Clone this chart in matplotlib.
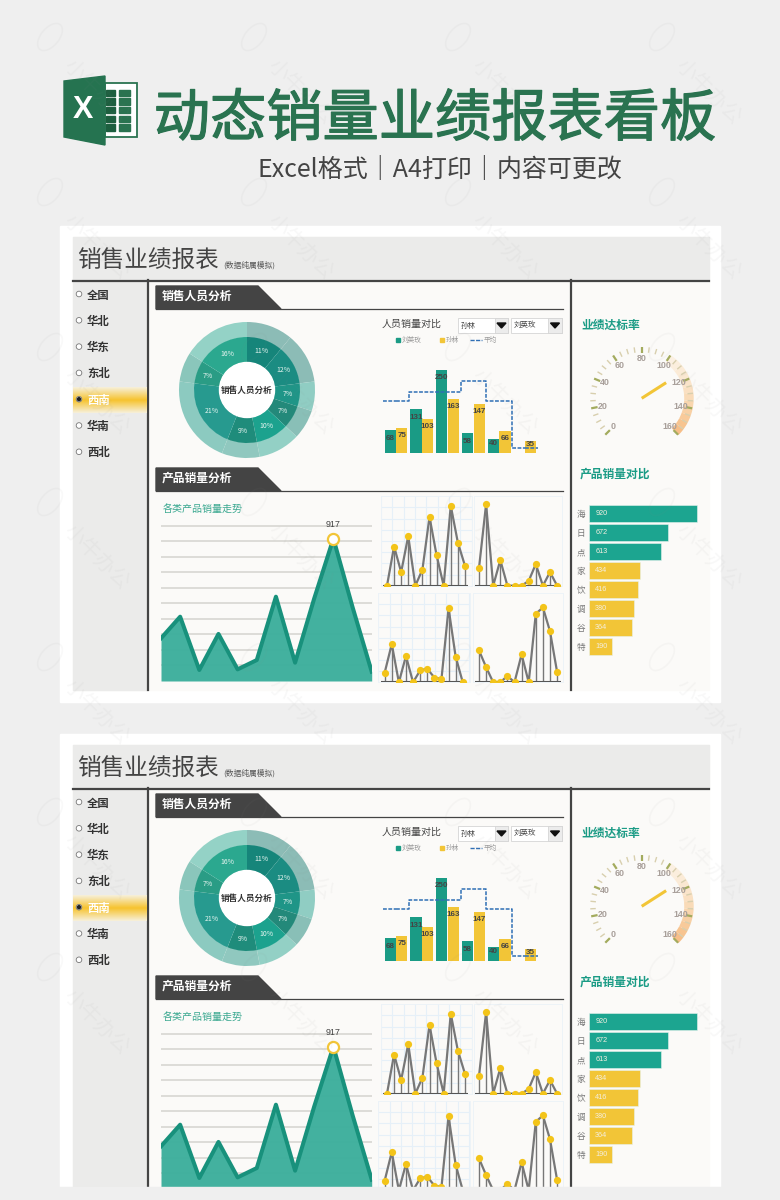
import numpy as np
import matplotlib
matplotlib.use("Agg")
import matplotlib.pyplot as plt
import matplotlib.patheffects as pe
from matplotlib.colors import LinearSegmentedColormap
from matplotlib.patches import Circle, Ellipse, Polygon, Rectangle

plt.rcParams["font.family"] = ["Noto Sans CJK SC", "DejaVu Sans"]
NUM_FONT = ["Liberation Sans", "Noto Sans CJK SC"]

# -----------------------------
# DATA
# -----------------------------
regions = ["全国", "华北", "华东", "东北", "西南", "华南", "西北"]
selected_region = "西南"

donut_share = [11, 12, 7, 7, 10, 9, 21, 7, 16]
donut_inner = ["#16857a", "#1b8c82", "#1f9587", "#23897a", "#1ca28e",
               "#1f8c7b", "#279a8f", "#2a9c85", "#2ba88f"]
donut_outer = ["#8cbcb6", "#8cbcb6", "#90cdc3", "#89bfb7", "#93d0c5",
               "#90c8bf", "#8ccac0", "#8ac6bb", "#94d2c6"]

liu_sales = [68, 131, 250, 58, 40, 0]
sun_sales = [75, 103, 163, 147, 66, 35]
avg_sales = [157, 182, 182, 218, 157, 15]

gauge_value = 114
gauge_labels = [0, 20, 40, 60, 80, 100, 120, 140, 160]
gauge_minor = [5, 10, 15, 25, 30, 35, 45, 50, 55, 65, 70, 75, 85, 90, 95,
               105, 110, 115, 125, 130, 135, 145, 150, 155]
gauge_band = [100, 105, 110, 115, 120, 125, 130, 135, 140, 145, 150, 155]
gauge_band_colors = ["#fbf0e2", "#fbeedd", "#fbebd7", "#fae8d1", "#fae4ca", "#fae0c2",
                     "#f9dbb8", "#f9d6ae", "#f8d0a4", "#f8ca9a", "#f7c490", "#f7be88"]

product_names = ["海", "日", "点", "家", "饮", "调", "谷", "特"]
product_sales = [920, 672, 613, 434, 416, 380, 364, 190]
product_colors = ["#1ca590", "#1ca590", "#1ca590", "#f2c537", "#f2c537",
                  "#f2c537", "#f2c537", "#f2c537"]

trend_sales = [275, 414, 71, 303, 75, 135, 543, 118, 532, 917, 476, 60]

spark_a = [0, 49, 17, 62, 0, 20, 86, 38, 0, 100, 54, 25]
spark_b = [22, 102, 0, 32, 0, 0, 0, 6, 27, 0, 17, 0]
spark_c = [12, 48, 0, 33, 0, 15, 17, 6, 4, 93, 32, 0]
spark_d = [40, 19, 0, 0, 8, 0, 35, 0, 86, 94, 64, 13]

TEAL = "#1a9b85"
GOLD = "#f2c537"
BG = "#efefef"
PANEL = "#fbfaf8"
GREY = "#ebebea"
DARK = "#444444"

fig = plt.figure(figsize=(7.8, 12), dpi=100, facecolor=BG)


def px_axes(x0, y0, x1, y1, **kw):
    # axes placed by pixel box, y measured from the top of the image
    return fig.add_axes([x0 / 780, 1 - y1 / 1200, (x1 - x0) / 780, (y1 - y0) / 1200], **kw)


base = px_axes(0, 0, 780, 1200)
base.set_xlim(0, 780)
base.set_ylim(1200, 0)
base.axis("off")
base.set_zorder(0)

# -----------------------------
# HEADING
# -----------------------------
base.add_patch(Rectangle((105, 83), 31.5, 54, fc="white", ec="#2a7350", lw=1.3))
for row in range(5):
    for col in range(2):
        base.add_patch(Rectangle((106 + col * 12.5, 89.5 + row * 8.7), 9 + col * 2, 6.5,
                                 color="#2a7350" if col else "#1d5f3f"))
base.add_patch(Polygon([(64, 81), (105, 76), (105, 145), (64, 137)], color="#257350"))
base.text(83, 110, "X", color="white", fontsize=22, fontweight="bold", ha="center", va="center",
          family=NUM_FONT)
base.text(435, 120, "动态销量业绩报表看板", color="#2a7350", fontsize=40.5, fontweight="medium",
          ha="center", va="center",
          path_effects=[pe.withStroke(linewidth=0.9, foreground="#2a7350")])
base.text(439.5, 170, "Excel格式｜A4打印｜内容可更改", color="#444444", fontsize=18,
          ha="center", va="center")


def draw_panel(dy):
    # -----------------------------
    # 1. PANEL BACKGROUND
    # -----------------------------
    base.add_patch(Rectangle((60, 226 + dy), 660, 476, color="white"))
    base.add_patch(Rectangle((73, 237 + dy), 636, 453, color=PANEL))
    base.add_patch(Rectangle((73, 237 + dy), 636, 43, color=GREY))
    base.add_patch(Rectangle((73, 281 + dy), 74, 409, color=GREY))
    base.plot([73, 709], [280.5 + dy, 280.5 + dy], color=DARK, lw=1.6)
    base.plot([148, 148], [280 + dy, 690 + dy], color=DARK, lw=1.6)
    base.plot([571, 571], [280 + dy, 690 + dy], color=DARK, lw=1.6)
    base.text(77.5, 261 + dy, "销售业绩报表", fontsize=17, color="#444444", va="center")
    base.text(223, 265.5 + dy, "(数据纯属模拟)", fontsize=5.6, color="#555555", va="center")

    # sidebar
    band = LinearSegmentedColormap.from_list("band", ["#f6efd8", "#f7c32e", "#f6efd8"])
    base.imshow(np.linspace(0, 1, 40).reshape(-1, 1), cmap=band, aspect="auto", zorder=2,
                extent=(73, 147, 413 + dy, 387 + dy))
    base.set_xlim(0, 780)
    base.set_ylim(1200, 0)
    for i, name in enumerate(regions):
        y = 294 + i * 26.3 + dy
        on = name == selected_region
        base.add_patch(Circle((79, y), 2.8, fc="white", ec="#777777", lw=0.6, zorder=3))
        if on:
            base.add_patch(Circle((79, y), 1.5, color="#222222", zorder=3))
        base.text(87, y + 1, name, fontsize=8.2, fontweight="bold", va="center", zorder=3,
                  color="white" if on else "#333333")

    # section headers
    for y0, title in [(286, "销售人员分析"), (468, "产品销量分析")]:
        base.add_patch(Polygon([(156, y0 + dy), (258, y0 + dy), (281, y0 + 23 + dy), (156, y0 + 23 + dy)],
                               color="#444444"))
        base.text(162, y0 + 10 + dy, title, color="white", fontsize=8.5, fontweight="bold", va="center")
        base.plot([156, 563], [y0 + 22.5 + dy, y0 + 22.5 + dy], color=DARK, lw=0.9)

    # -----------------------------
    # 2. DONUT
    # -----------------------------
    ax = px_axes(167, 310 + dy, 327, 470 + dy)
    ax.pie(donut_share, colors=donut_outer, radius=68, startangle=90, counterclock=False,
           wedgeprops={"width": 15.5, "linewidth": 0})
    ax.pie(donut_share, colors=donut_inner, radius=53, startangle=90, counterclock=False,
           wedgeprops={"width": 25.5, "linewidth": 0},
           autopct="%d%%", pctdistance=0.78,
           textprops={"color": "#e8f5f1", "fontsize": 5})
    ax.add_patch(Circle((0, 0), 27.5, color="white"))
    ax.text(0, 0, "销售人员分析", fontsize=6.2, fontweight="bold", color="#333333",
            ha="center", va="center")
    ax.set_xlim(-80, 80)
    ax.set_ylim(-80, 80)
    ax.set_aspect("equal")

    # -----------------------------
    # 3. PERSON COMPARISON BARS
    # -----------------------------
    base.text(382, 323.5 + dy, "人员销量对比", fontsize=7.2, color="#444444", va="center")
    for x0, x1, btn, who in [(458, 508, 495, "孙林"), (511, 562, 548, "刘英玫")]:
        base.add_patch(Rectangle((x0, 318 + dy), x1 - x0, 15, fc="white", ec="#d5d5d5", lw=0.6))
        base.add_patch(Rectangle((btn, 318 + dy), x1 - btn, 15, fc="#ececec", ec="#d5d5d5", lw=0.6))
        mid = (btn + x1) / 2
        base.add_patch(Polygon([(mid - 4.5, 323 + dy), (mid + 4.5, 323 + dy), (mid, 328 + dy)], color="#111111"))
        base.text(x0 + 3, 325.5 + dy, who, fontsize=5.4, color="#444444", va="center")
    base.add_patch(Rectangle((396, 338 + dy), 4, 4, color=TEAL))
    base.text(402, 340 + dy, "刘英玫", fontsize=4.8, color="#999999", va="center")
    base.add_patch(Rectangle((440, 338 + dy), 4, 4, color=GOLD))
    base.text(446, 340 + dy, "孙林", fontsize=4.8, color="#999999", va="center")
    base.plot([470, 482], [340 + dy, 340 + dy], color="#2f6fb5", lw=1, ls=(0, (3, 1)))
    base.text(484, 340 + dy, "平均", fontsize=4.8, color="#999999", va="center")

    ax = px_axes(383.1, 360 + dy, 537.9, 452.7 + dy)
    x = np.arange(len(liu_sales))
    ax.bar(x - 0.225, liu_sales, width=0.44, color=TEAL)
    ax.bar(x + 0.225, sun_sales, width=0.44, color=GOLD)
    ax.step(x, avg_sales, where="mid", color="#2f6fb5", lw=1.1, ls=(0, (2.5, 1)))
    ax.plot([-0.5, 0], [avg_sales[0], avg_sales[0]], color="#2f6fb5", lw=1.1, ls=(0, (2.5, 1)))
    ax.plot([5, 5.5], [avg_sales[-1], avg_sales[-1]], color="#2f6fb5", lw=1.1, ls=(0, (2.5, 1)))
    for shift, vals in [(-0.225, liu_sales), (0.225, sun_sales)]:
        for i, v in enumerate(vals):
            if v:
                # small bars keep their number closer to the top
                ax.text(i + shift, v - (24 if v > 50 else 11), str(v), fontsize=5.8, fontweight="bold",
                        color="#444444", ha="center", va="center", family=NUM_FONT)
    ax.set_xlim(-0.5, 5.5)
    ax.set_ylim(0, 280)
    ax.axis("off")

    # -----------------------------
    # 4. GAUGE
    # -----------------------------
    base.text(581, 325 + dy, "业绩达标率", fontsize=8.5, fontweight="bold", color=TEAL, va="center")
    base.text(580, 474 + dy, "产品销量对比", fontsize=8.5, fontweight="bold", color=TEAL, va="center")

    def angle(v):
        return np.deg2rad(-135 + np.asarray(v) * 270 / 160)

    ax = px_axes(581.7, 338.3 + dy, 701.7, 458.3 + dy, projection="polar")
    ax.set_theta_zero_location("N")
    ax.set_theta_direction(-1)
    ax.bar(angle(gauge_band), 9.5, width=np.deg2rad(5 * 270 / 160), bottom=42.5, align="edge",
           color=gauge_band_colors, linewidth=0)
    ax.vlines(angle(gauge_minor), 46, 51.5, color="#d8cfae", lw=1)
    ax.vlines(angle(gauge_labels), 45, 51.5, color="#a3ab5e", lw=1.6)
    for v in gauge_labels:
        ax.text(angle(v), 40, str(v), fontsize=6.4, color="#a89f9a", ha="center", va="center",
                family=NUM_FONT, fontweight="bold")
    ax.plot([angle(gauge_value), angle(gauge_value)], [0, 29], color=GOLD, lw=2.2, solid_capstyle="butt")
    ax.set_ylim(0, 60)
    ax.axis("off")

    # -----------------------------
    # 5. PRODUCT BARS
    # -----------------------------
    ax = px_axes(589.3, 504.2 + dy, 709, 656.2 + dy)
    y = np.arange(len(product_sales))
    ax.barh(y, product_sales, height=0.9, color=product_colors, edgecolor="#e6f2ee", linewidth=0.4)
    for i, v in enumerate(product_sales):
        ax.text(50, i, str(v), fontsize=5.2, color="#f4efe0", va="center", family=NUM_FONT)
    ax.set_yticks(y, product_names, fontsize=6.2, color="#777777")
    ax.set_xticks([])
    ax.tick_params(axis="y", length=0, pad=3)
    for s in ax.spines.values():
        s.set_visible(False)
    ax.patch.set_alpha(0)
    ax.set_xlim(0, 1019)
    ax.set_ylim(7.5, -0.5)

    # -----------------------------
    # 6. TREND AREA
    # -----------------------------
    base.text(163, 509.5 + dy, "各类产品销量走势", fontsize=7.2, color="#3aa890", va="center")
    ax = px_axes(161, 515 + dy, 371.7, 681 + dy)
    x = np.arange(len(trend_sales))
    ax.fill_between(x, trend_sales, color="#3daf9c", alpha=0.97, lw=0, zorder=2)
    ax.plot(x, trend_sales, color="#18917c", lw=2.9, zorder=3)
    peak = int(np.argmax(trend_sales))
    ax.plot(x[peak], trend_sales[peak], "o", ms=8, mfc="white", mec=GOLD, mew=1.6, zorder=4, clip_on=False)
    ax.text(x[peak], trend_sales[peak] + 60, str(trend_sales[peak]), fontsize=6.4, color="#444444",
            ha="center", va="bottom", family=NUM_FONT)
    ax.set_xlim(0, len(trend_sales) - 1)
    ax.set_ylim(0, 1069)
    ax.set_yticks(range(100, 1001, 100))
    ax.set_xticks([])
    ax.grid(axis="y", color="#d4d3cf", lw=1.1)
    ax.set_axisbelow(True)
    ax.tick_params(axis="y", length=0, labelleft=False)
    for s in ax.spines.values():
        s.set_visible(False)
    ax.patch.set_alpha(0)

    # -----------------------------
    # 7. SMALL LINE CHARTS
    # -----------------------------
    sparks = [(spark_a, 381, 495.7, 471.7, 585.7, True, 711),
              (spark_b, 474.3, 495.7, 562.3, 585.7, False, 987),
              (spark_c, 378.3, 592.7, 470, 682.3, True, 704),
              (spark_d, 473.3, 592.7, 563.3, 682.3, False, 987)]
    for vals, x0, y0, x1, y1, grid, first in sparks:
        ax = px_axes(x0, y0 + dy, x1, y1 + dy)
        x = np.arange(len(vals))
        off = (first / 3 + 150 - x0) / 7.1
        ax.vlines(x, 0, vals, color="#777777", lw=1)
        ax.plot(x, vals, color="#777777", lw=1.6)
        ax.plot(x, vals, "o", ms=5.2, color="#f3c419", mew=0, zorder=5)
        ax.hlines(0, -0.5, 11.5, color="#555555", lw=1.5, zorder=4)
        ax.set_xlim(-off, (x1 - x0) / 7.1 - off)
        ax.set_ylim(0, 112.5)
        ax.set_facecolor(PANEL)
        ax.tick_params(length=0, labelleft=False, labelbottom=False)
        if grid:
            ax.set_xticks(np.arange(-off, 12, 1.6))
            ax.set_yticks(np.arange(0, 112, 14))
            ax.grid(color="#e6f0f8", lw=0.8)
            ax.set_axisbelow(True)
        else:
            ax.set_xticks([])
            ax.set_yticks([])
        for s in ax.spines.values():
            s.set_color("#edf3f7")
            s.set_linewidth(0.7)


draw_panel(0)
draw_panel(508)

# -----------------------------
# COVER + WATERMARK
# -----------------------------
top = px_axes(0, 0, 780, 1200)
top.set_xlim(0, 780)
top.set_ylim(1200, 0)
top.axis("off")
top.patch.set_alpha(0)
top.set_zorder(20)
top.add_patch(Rectangle((0, 1186.5), 780, 14, color=BG))
for wy in range(37, 1100, 155):
    for wx in (50, 254, 458, 662):
        top.add_patch(Ellipse((wx, wy), 32, 18, angle=-50, fc="none", ec="#8a8a8a", lw=1.2, alpha=0.05))
        top.text(wx + 47, wy + 55, "小牛办公", fontsize=15, color="#8a8a8a", alpha=0.06, rotation=-45,
                 ha="center", va="center")

fig.savefig("out.png", dpi=100, facecolor=BG)
plt.close(fig)
